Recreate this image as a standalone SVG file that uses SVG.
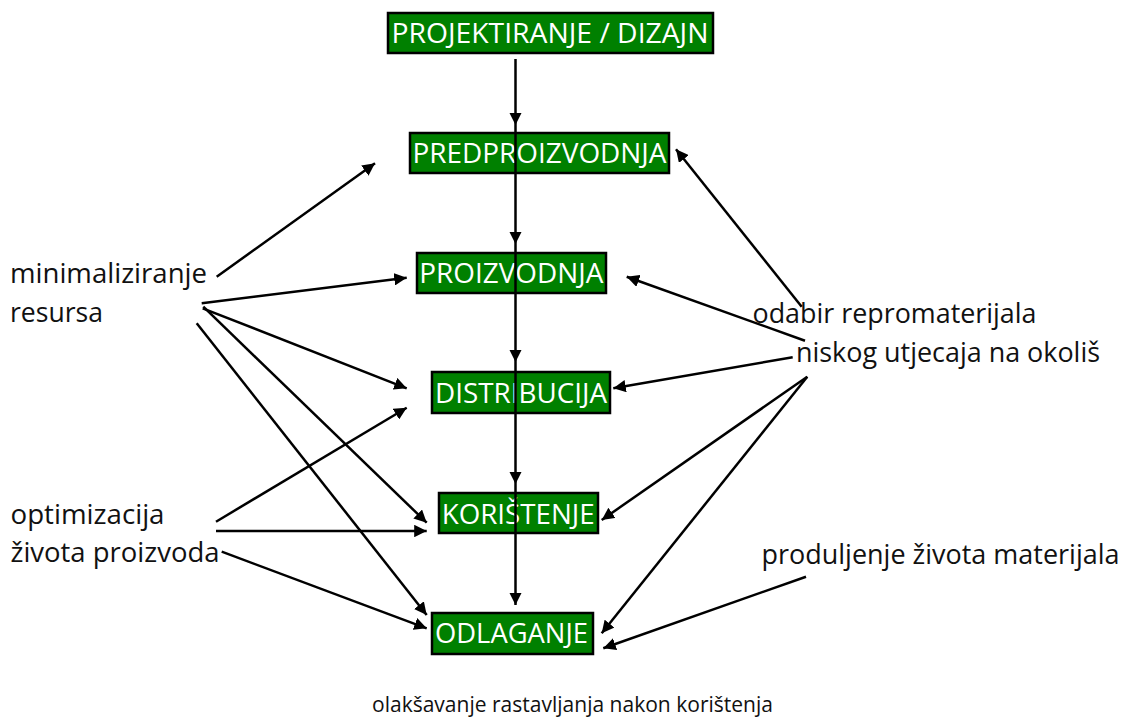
<svg xmlns="http://www.w3.org/2000/svg" width="1139" height="727" viewBox="0 0 1139 727">
<style>
.box{fill:#008000;stroke:#000;stroke-width:2.5}
.bt{font-family:"Open Sans","Noto Sans",sans-serif;font-size:27px;fill:#fff}
.lt{font-family:"Open Sans","Noto Sans",sans-serif;font-size:27px;fill:#111}
.st{font-family:"Open Sans","Noto Sans",sans-serif;font-size:22px;fill:#111}
.c line{stroke:#000;stroke-width:2.5;marker-end:url(#ah)}
</style>
<defs>
<marker id="ah" viewBox="0 0 10 10" refX="10" refY="5" markerWidth="5" markerHeight="5" orient="auto">
<path d="M0,0 L10,5 L0,10 z" fill="#000"/>
</marker>
</defs>
<rect width="1139" height="727" fill="#fff"/>
<g id="n-projektiranje"><rect class="box" x="388" y="13" width="325" height="40"/><text class="bt" x="391.5" y="43" textLength="317" lengthAdjust="spacingAndGlyphs">PROJEKTIRANJE / DIZAJN</text></g>
<g id="n-predproizvodnja"><rect class="box" x="410" y="133" width="259" height="40"/><text class="bt" x="412.5" y="163.3" textLength="254" lengthAdjust="spacingAndGlyphs">PREDPROIZVODNJA</text></g>
<g id="n-proizvodnja"><rect class="box" x="417" y="253" width="189" height="40"/><text class="bt" x="419.3" y="282.7" textLength="184" lengthAdjust="spacingAndGlyphs">PROIZVODNJA</text></g>
<g id="n-distribucija"><rect class="box" x="432" y="372" width="178" height="41"/><text class="bt" x="435" y="403.3" textLength="172" lengthAdjust="spacingAndGlyphs">DISTRIBUCIJA</text></g>
<g id="n-koristenje"><rect class="box" x="439" y="493" width="159" height="40"/><text class="bt" x="441.7" y="524.3" textLength="153" lengthAdjust="spacingAndGlyphs">KORIŠTENJE</text></g>
<g id="n-odlaganje"><rect class="box" x="432" y="613" width="161" height="41"/><text class="bt" x="435" y="642.7" textLength="153" lengthAdjust="spacingAndGlyphs">ODLAGANJE</text></g>
<g id="n-minimaliziranje"><text class="lt" x="10" y="283.3" textLength="197" lengthAdjust="spacingAndGlyphs">minimaliziranje</text><text class="lt" x="10" y="321.7" textLength="93" lengthAdjust="spacingAndGlyphs">resursa</text></g>
<g id="n-optimizacija"><text class="lt" x="10.5" y="524" textLength="154" lengthAdjust="spacingAndGlyphs">optimizacija</text><text class="lt" x="10.5" y="561.7" textLength="209" lengthAdjust="spacingAndGlyphs">života proizvoda</text></g>
<g id="n-odabir"><text class="lt" x="752.5" y="323.3" textLength="284" lengthAdjust="spacingAndGlyphs">odabir repromaterijala</text><text class="lt" x="796" y="361.7" textLength="304" lengthAdjust="spacingAndGlyphs">niskog utjecaja na okoliš</text></g>
<g id="n-produljenje"><text class="lt" x="761.5" y="564" textLength="358" lengthAdjust="spacingAndGlyphs">produljenje života materijala</text></g>
<g id="n-olaksavanje"><text class="st" x="372" y="712" textLength="401" lengthAdjust="spacingAndGlyphs">olakšavanje rastavljanja nakon korištenja</text></g>
<g id="connectors" class="c">
<line x1="515.5" y1="59" x2="515.5" y2="125"/>
<line x1="515.5" y1="125" x2="515.5" y2="244"/>
<line x1="515.5" y1="244" x2="515.5" y2="362"/>
<line x1="515.5" y1="362" x2="515.5" y2="484"/>
<line x1="515.5" y1="484" x2="515.5" y2="605"/>
<line x1="216.7" y1="276.7" x2="375" y2="163.3"/>
<line x1="201.7" y1="303.3" x2="406.7" y2="277.7"/>
<line x1="202.7" y1="308.3" x2="406.7" y2="388.3"/>
<line x1="203.3" y1="306.7" x2="426.7" y2="522.7"/>
<line x1="196.7" y1="323.3" x2="426.7" y2="615"/>
<line x1="216" y1="521.7" x2="406.7" y2="407.7"/>
<line x1="216" y1="531" x2="426.7" y2="531"/>
<line x1="221.7" y1="551.7" x2="426.7" y2="628.3"/>
<line x1="801.7" y1="306.7" x2="676" y2="149.3"/>
<line x1="805" y1="340.7" x2="626.7" y2="276.7"/>
<line x1="792.7" y1="357.3" x2="613.3" y2="388.3"/>
<line x1="807.3" y1="376.7" x2="601.7" y2="520"/>
<line x1="807.3" y1="376.7" x2="601.7" y2="633.3"/>
<line x1="806" y1="576.7" x2="603.3" y2="648.3"/>
</g>
</svg>
